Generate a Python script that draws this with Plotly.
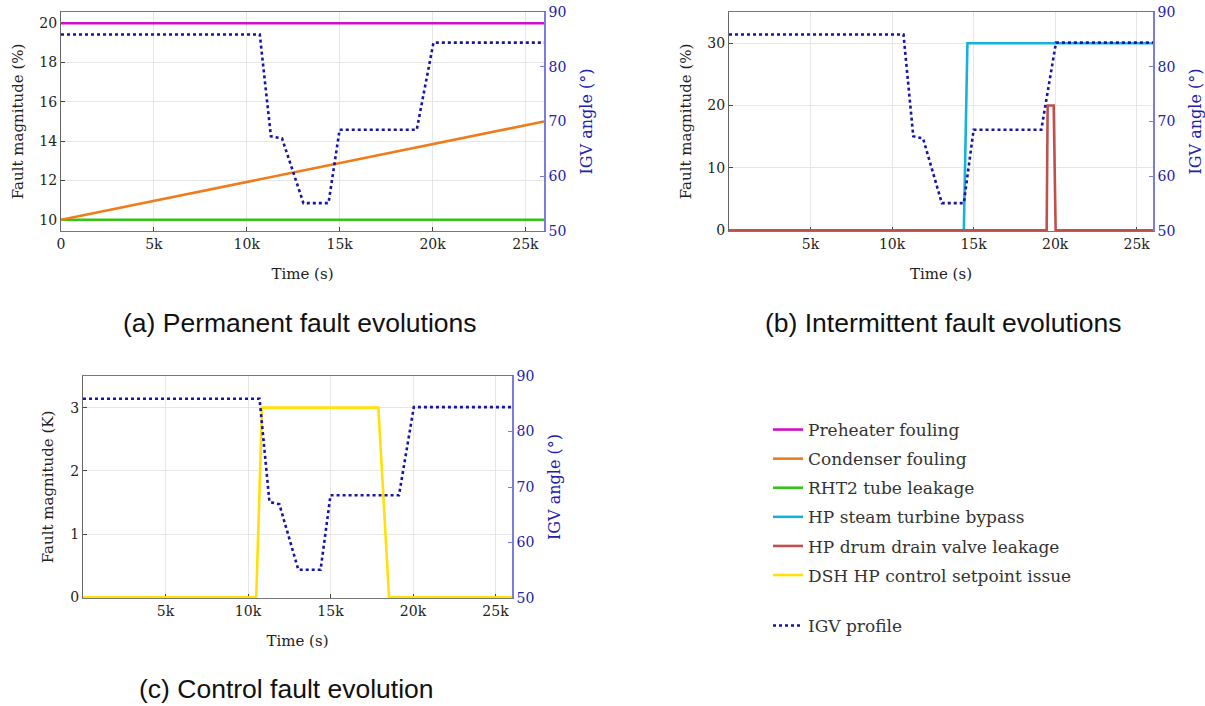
import plotly.graph_objects as go

# ---------------- data ----------------
t_perm = [0, 26000]
preheater = [20, 20]
condenser = [10, 15]
rht2 = [10, 10]

t_bypass = [0, 14400, 14620, 26000]
bypass = [0, 0, 30, 30]
t_drum = [0, 19480, 19540, 19910, 20030, 26000]
drum = [0, 0, 20, 20, 0, 0]

t_dsh = [0, 10500, 10850, 17900, 18550, 26000]
dsh = [0, 0, 3, 3, 0, 0]

t_igv = [0, 10700, 11300, 11900, 13050, 14400, 15000, 19150, 20050, 26000]
igv = [85.9, 85.9, 67.3, 66.9, 55.1, 55.1, 68.5, 68.5, 84.4, 84.4]

x_tickvals_a = [0, 5000, 10000, 15000, 20000, 25000]
x_ticktext_a = ["0", "5k", "10k", "15k", "20k", "25k"]
x_tickvals_bc = [5000, 10000, 15000, 20000, 25000]
x_ticktext_bc = ["5k", "10k", "15k", "20k", "25k"]

# ---------------- style ----------------
SERIF = "DejaVu Serif"
C_PRE = "#d10fc8"
C_CON = "#f07b1a"
C_RHT = "#33c414"
C_BYP = "#17b2dc"
C_DRUM = "#c0504d"
C_DSH = "#ffe10a"
C_IGV = "#1515a8"
BLUE_TXT = "#2020b0"
W = 1205
H = 706

fig = go.Figure()

rank = {"Preheater fouling": 1, "Condenser fouling": 2, "RHT2 tube leakage": 3,
        "HP steam turbine bypass": 4, "HP drum drain valve leakage": 5,
        "DSH HP control setpoint issue": 6, "IGV profile": 7}

def add(x, y, name, color, xa, ya, show, dash="solid", width=2.6, legend="legend"):
    fig.add_trace(go.Scatter(x=x, y=y, name=name, mode="lines",
                             line=dict(color=color, width=width, dash=dash),
                             xaxis=xa, yaxis=ya, showlegend=show,
                             legendgroup=name, legend=legend,
                             legendrank=rank.get(name, 100)))

# panel a
add(t_perm, preheater, "Preheater fouling", C_PRE, "x", "y", True)
add(t_perm, rht2, "RHT2 tube leakage", C_RHT, "x", "y", True)
add(t_perm, condenser, "Condenser fouling", C_CON, "x", "y", True)
add(t_igv, igv, "IGV profile", C_IGV, "x", "y2", True, dash="dot", width=2.6, legend="legend2")
# panel b
add(t_bypass, bypass, "HP steam turbine bypass", C_BYP, "x2", "y3", True)
add(t_drum, drum, "HP drum drain valve leakage", C_DRUM, "x2", "y3", True)
add(t_igv, igv, "IGV profile b", C_IGV, "x2", "y4", False, dash="dot", width=2.6)
# panel c
add(t_dsh, dsh, "DSH HP control setpoint issue", C_DSH, "x3", "y5", True)
add(t_igv, igv, "IGV profile c", C_IGV, "x3", "y6", False, dash="dot", width=2.6)

def dom_x(l, r):
    return [l / W, r / W]

def dom_y(top, bot):
    return [1 - bot / H, 1 - top / H]

tickfont = dict(family=SERIF, size=14, color="#222")
bluefont = dict(family=SERIF, size=14, color=BLUE_TXT)
titlefont = dict(family=SERIF, size=15, color="#222")
btitlefont = dict(family=SERIF, size=16, color=BLUE_TXT)

def xax(domain, anchor, tv, tt):
    return dict(domain=domain, anchor=anchor, range=[0, 26000], tickvals=tv, ticktext=tt,
                showline=True, linecolor="#777", linewidth=1.2, mirror=True,
                ticks="inside", ticklen=4, tickcolor="#444", layer="below traces",
                showgrid=True, gridcolor="#e6e6e6", zeroline=False,
                tickfont=tickfont, title=dict(text="Time (s)", font=titlefont, standoff=17))

def yax(domain, anchor, rng, tv, title):
    return dict(domain=domain, anchor=anchor, range=rng, tickvals=tv,
                showline=True, linecolor="#666", linewidth=1.2,
                ticks="inside", ticklen=4, tickcolor="#444", layer="below traces",
                showgrid=True, gridcolor="#e6e6e6", zeroline=False,
                tickfont=tickfont, title=dict(text=title, font=titlefont, standoff=12))

def y2ax(overlay, anchor):
    return dict(overlaying=overlay, anchor=anchor, side="right", range=[50, 90],
                tickvals=[50, 60, 70, 80, 90],
                showline=True, linecolor="#7c7cdc", linewidth=1.5,
                ticks="inside", ticklen=4, tickcolor="#7c7cdc",
                showgrid=False, zeroline=False, tickfont=bluefont,
                title=dict(text="IGV angle (°)", font=btitlefont, standoff=15))

dA_x = dom_x(61, 544); dA_y = dom_y(12, 231)
dB_x = dom_x(729, 1153); dB_y = dom_y(12, 231)
dC_x = dom_x(83, 512); dC_y = dom_y(376, 598)

legfont = dict(family=SERIF, size=17, color="#333")
fig.update_layout(
    width=W, height=H, margin=dict(l=0, r=0, t=0, b=0, autoexpand=False),
    paper_bgcolor="white", plot_bgcolor="white",
    xaxis=xax(dA_x, "y", x_tickvals_a, x_ticktext_a),
    yaxis=yax(dA_y, "x", [9.43, 20.57], [10, 12, 14, 16, 18, 20], "Fault magnitude (%)"),
    yaxis2=y2ax("y", "x"),
    xaxis2=xax(dB_x, "y3", x_tickvals_bc, x_ticktext_bc),
    yaxis3=yax(dB_y, "x2", [-0.12, 35], [0, 10, 20, 30], "Fault magnitude (%)"),
    yaxis4=y2ax("y3", "x2"),
    xaxis3=xax(dC_x, "y5", x_tickvals_bc, x_ticktext_bc),
    yaxis5=yax(dC_y, "x3", [-0.012, 3.5], [0, 1, 2, 3], "Fault magnitude (K)"),
    yaxis6=y2ax("y5", "x3"),
    legend=dict(x=768 / W, y=1 - 412 / H, xanchor="left", yanchor="top",
                bgcolor="rgba(0,0,0,0)", font=legfont,
                traceorder="grouped", tracegroupgap=4, itemwidth=30),
    legend2=dict(x=768 / W, y=1 - 608 / H, xanchor="left", yanchor="top",
                 bgcolor="rgba(0,0,0,0)", font=legfont, itemwidth=30),
    showlegend=True,
)

cap_font = dict(family="Liberation Sans", size=26.5, color="#111")
captions = [("(a) Permanent fault evolutions", 300, 323),
            ("(b) Intermittent fault evolutions", 943, 323),
            ("(c) Control fault evolution", 286, 689)]
for text, cx, cy in captions:
    fig.add_annotation(text=text, x=cx / W, y=1 - cy / H, xref="paper", yref="paper",
                       showarrow=False, font=cap_font, xanchor="center", yanchor="middle")

fig.write_html("out.html", config={"displayModeBar": False},
               post_script="document.body.style.margin='0';document.body.style.overflow='hidden';")
